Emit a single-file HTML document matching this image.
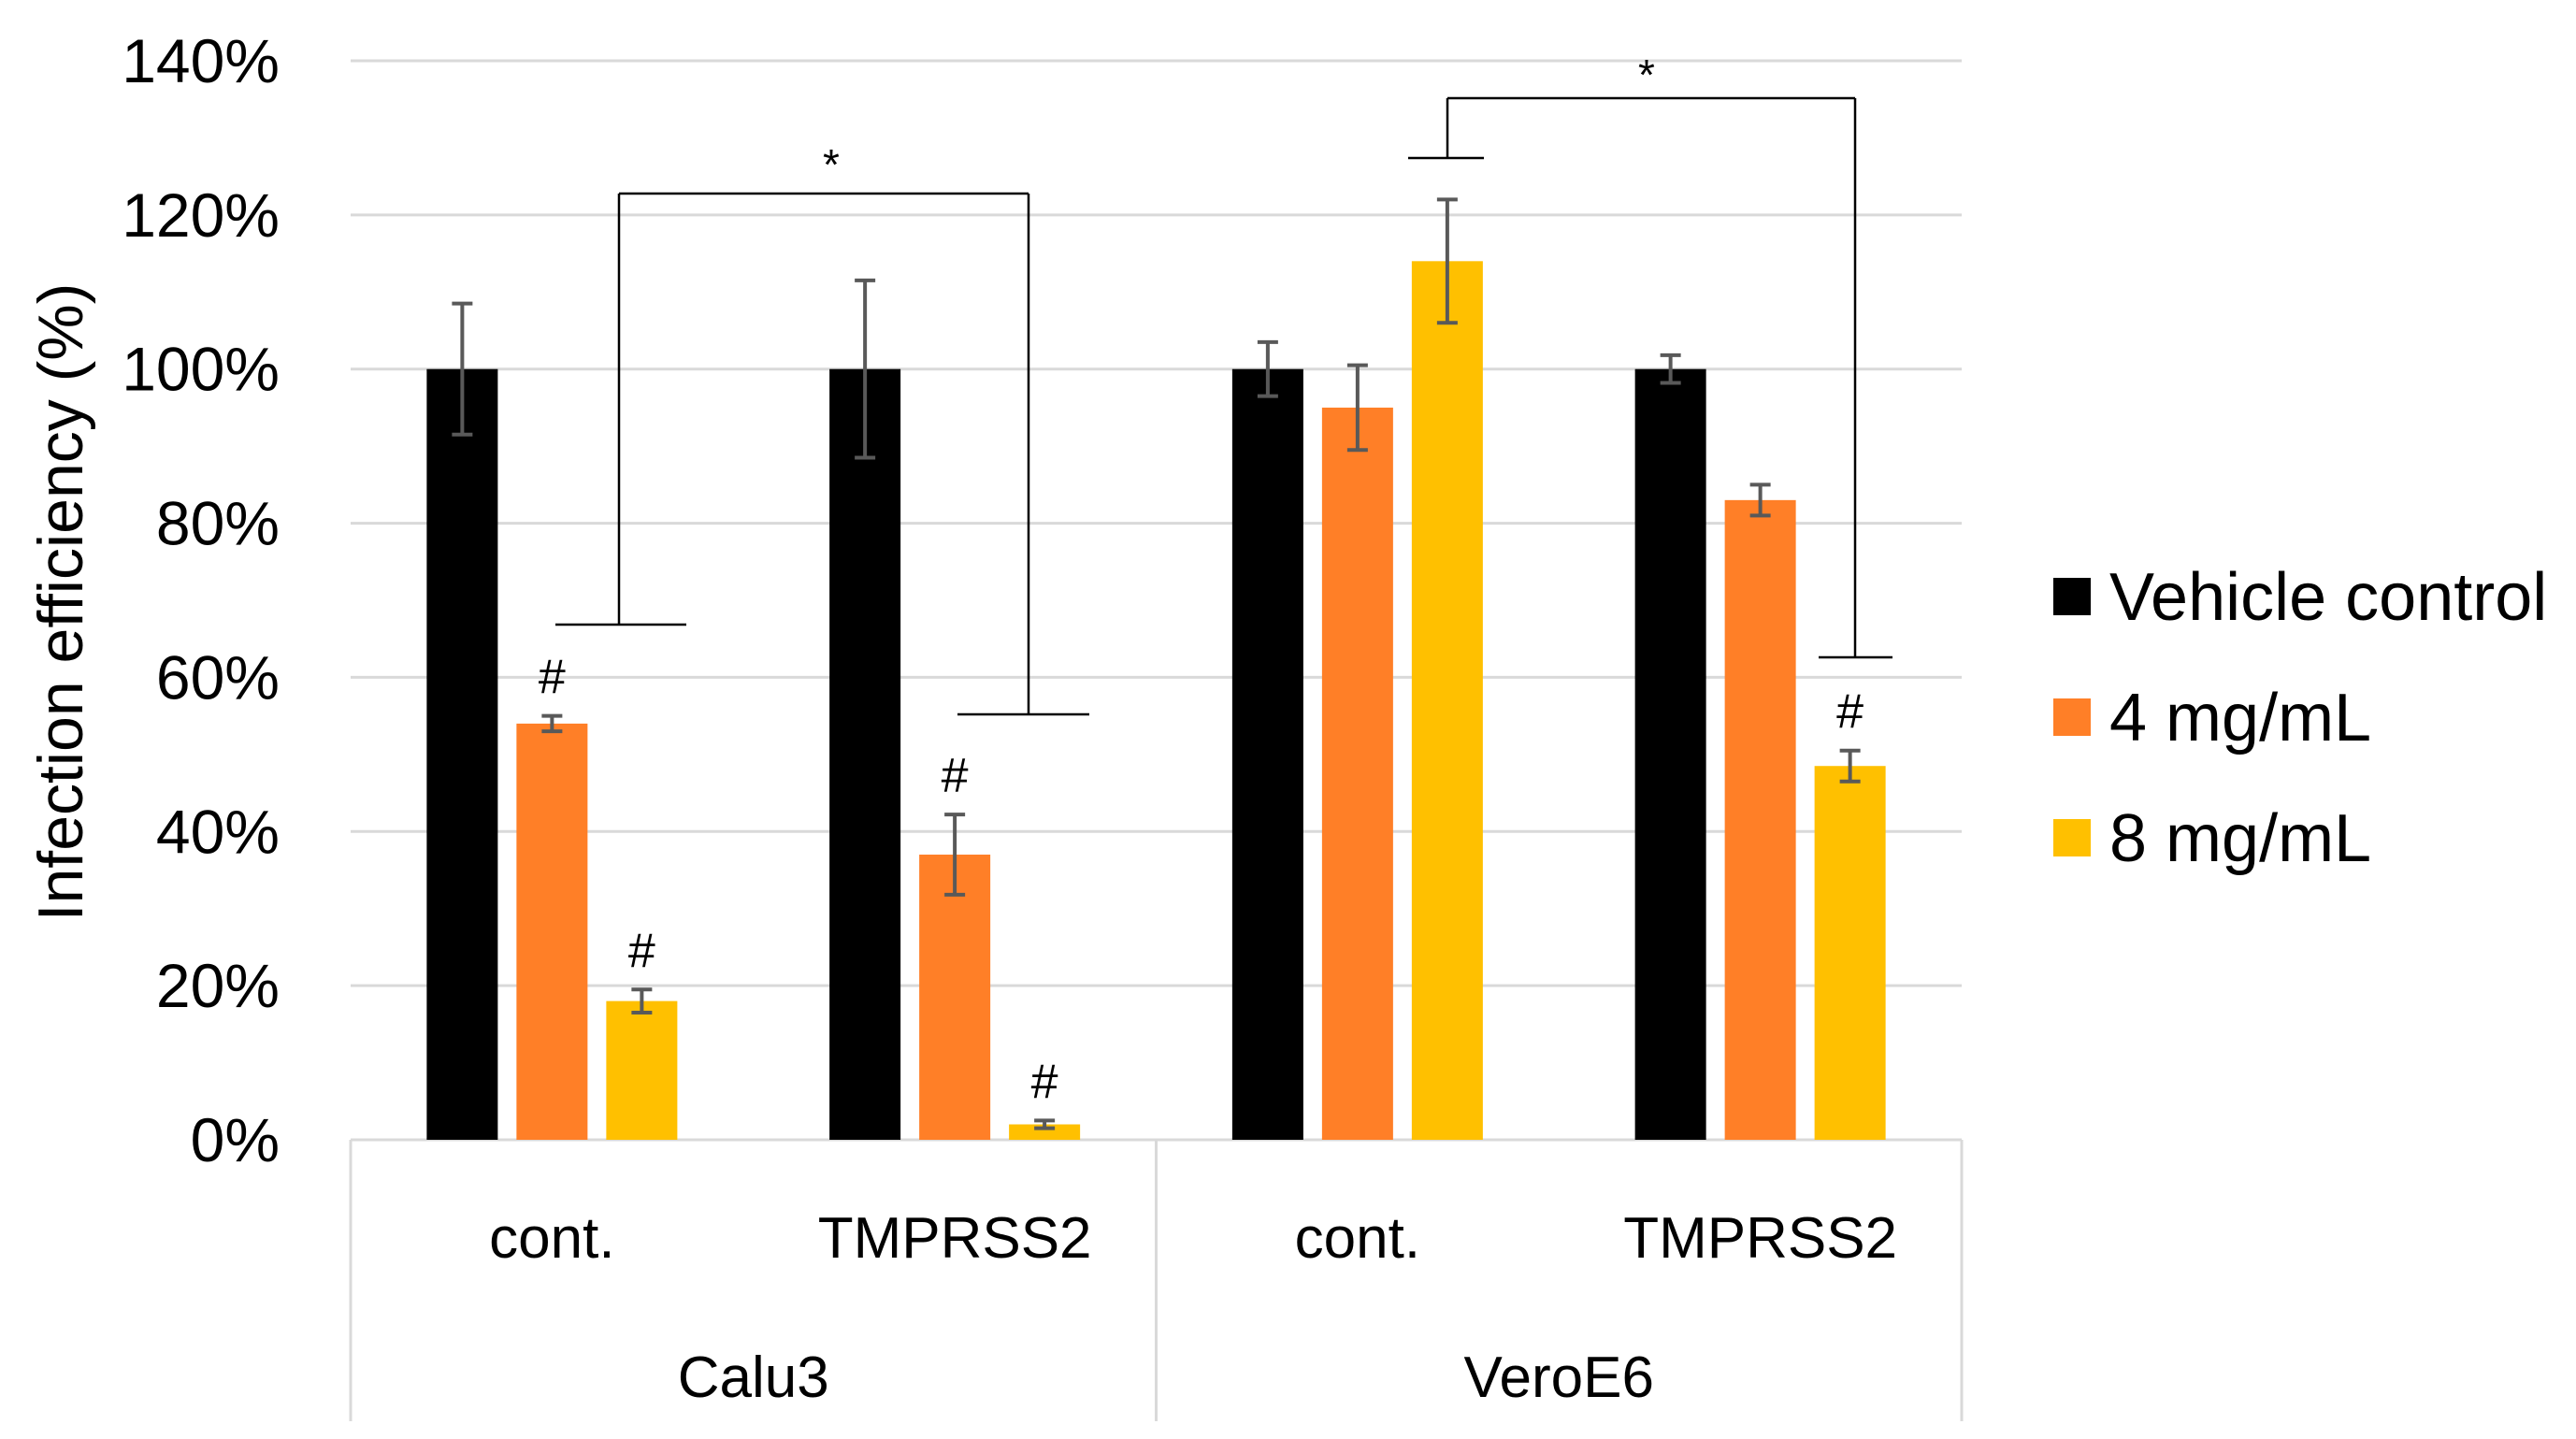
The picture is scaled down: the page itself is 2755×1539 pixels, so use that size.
<!DOCTYPE html>
<html><head><meta charset="utf-8"><style>
html,body{margin:0;padding:0;background:#fff}
svg{display:block;font-family:"Liberation Sans","DejaVu Sans",sans-serif}
</style></head><body>
<svg id="chart" width="2755" height="1539" viewBox="0 0 2755 1539" xmlns="http://www.w3.org/2000/svg"></svg>
<script>
const categories = ["cont.", "TMPRSS2", "cont.", "TMPRSS2"];
const groups = ["Calu3", "VeroE6"];
const seriesNames = ["Vehicle control", "4 mg/mL", "8 mg/mL"];
const vehicleValues = [100, 100, 100, 100];
const low4Values = [54, 37, 95, 83];
const high8Values = [18, 2, 114, 48.5];
const vehicleErr = [8.5, 11.5, 3.5, 1.8];
const low4Err = [1, 5.2, 5.5, 2];
const high8Err = [1.5, 0.5, 8, 2];
const low4Sig = [true, true, false, false];
const high8Sig = [true, true, false, true];
const yTicks = [0, 20, 40, 60, 80, 100, 120, 140];

const svg = document.getElementById('chart');
const NS = 'http://www.w3.org/2000/svg';
function mk(tag, attrs, parent, text){
  const e = document.createElementNS(NS, tag);
  for (const k in attrs) e.setAttribute(k, attrs[k]);
  if (text !== undefined) e.textContent = text;
  (parent || svg).appendChild(e);
  return e;
}
const L = 375, R = 2098, Y0 = 1219, Y140 = 65, BOT = 1520;
const y = v => Y0 - (v / 140) * (Y0 - Y140);
const slotW = (R - L) / categories.length;
const xc = i => L + slotW * (i + 0.5);
const barW = 76, step = 96;
const colors = ["#000000", "#FF7F27", "#FFC000"];
const vals = [vehicleValues, low4Values, high8Values];
const errs = [vehicleErr, low4Err, high8Err];

yTicks.forEach(t => {
  if (t > 0) {
    const g = mk('line', {x1: L, x2: R, y1: y(t), y2: y(t), stroke: '#d9d9d9', 'stroke-width': 3});
    
    
  }
  const lbl = mk('text', {x: 299, y: y(t) + 23, 'text-anchor': 'end', 'font-size': 66, fill: '#000'}, svg, t + '%');
  
  
});
const tcY = (Y0 + Y140) / 2 + 2;
const tcX = 64;
const yt = mk('text', {x: tcX, y: tcY + 24, 'text-anchor': 'middle', 'font-size': 68, transform: 'rotate(-90 ' + tcX + ' ' + tcY + ')'}, svg, 'Infection efficiency (%)');



const axisLines = [[L, Y0, R, Y0], [L, Y0, L, BOT], [(L + R) / 2, Y0, (L + R) / 2, BOT], [R, Y0, R, BOT]];
axisLines.forEach(a => {
  const l = mk('line', {x1: a[0], y1: a[1], x2: a[2], y2: a[3], stroke: '#d9d9d9', 'stroke-width': 3});
  
  
});
categories.forEach((c, i) => {
  const t = mk('text', {x: xc(i), y: 1345, 'text-anchor': 'middle', 'font-size': 62}, svg, c);
  
  
});
groups.forEach((g, i) => {
  const t = mk('text', {x: L + (R - L) / 4 * (2 * i + 1), y: 1494, 'text-anchor': 'middle', 'font-size': 62}, svg, g);
  
  
});

categories.forEach((c, i) => {
  vals.forEach((arr, s) => {
    const cx = xc(i) + (s - 1) * step;
    const r = mk('rect', {x: cx - barW / 2, y: y(arr[i]), width: barW, height: Y0 - y(arr[i]), fill: colors[s]});
    
    
    const e = errs[s][i];
    const eg = mk('g', {stroke: '#595959', 'stroke-width': 4});
    
    
    mk('line', {x1: cx, x2: cx, y1: y(arr[i] + e), y2: y(arr[i] - e)}, eg);
    mk('line', {x1: cx - 11, x2: cx + 11, y1: y(arr[i] + e), y2: y(arr[i] + e)}, eg);
    mk('line', {x1: cx - 11, x2: cx + 11, y1: y(arr[i] - e), y2: y(arr[i] - e)}, eg);
    const sig = s === 1 ? low4Sig[i] : s === 2 ? high8Sig[i] : false;
    if (sig) {
      const h = mk('text', {x: cx, y: y(arr[i] + e) - 24, 'text-anchor': 'middle', 'font-size': 52}, svg, '#');
      
      
    }
  });
});

const br = mk('g', {stroke: '#000', 'stroke-width': 2.5, fill: 'none'});


[[594,668,734,668],[662,668,662,207],[662,207,1100,207],[1100,207,1100,764],[1024,764,1165,764],
 [1506,169,1587,169],[1548,169,1548,105],[1548,105,1984,105],[1984,105,1984,703],[1945,703,2024,703]]
 .forEach(a => mk('line', {x1: a[0], y1: a[1], x2: a[2], y2: a[3]}, br));
[[889,192],[1761,96]].forEach(p => {
  const s = mk('text', {x: p[0], y: p[1], 'text-anchor': 'middle', 'font-size': 46}, svg, '*');
  
  
});

const lg = mk('g', {});


seriesNames.forEach((n, s) => {
  const cy = 638 + s * 129;
  const sq = mk('rect', {x: 2196, y: cy - 20, width: 40, height: 40, fill: colors[s]}, lg);
  
  
  const t = mk('text', {x: 2256, y: cy + 25, 'font-size': 72}, lg, n);
  
  
});
</script>
</body></html>
